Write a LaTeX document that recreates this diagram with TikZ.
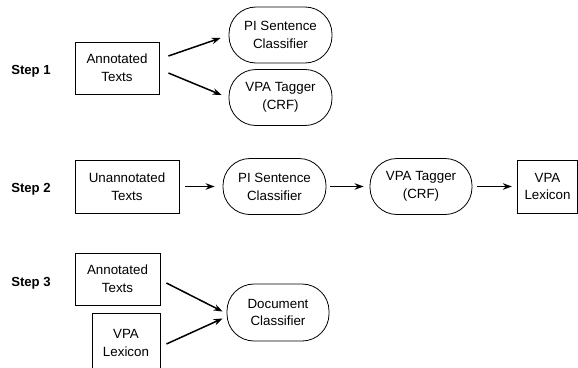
\documentclass[tikz,border=0pt]{standalone}
\usepackage{fontspec}
\setmainfont{Liberation Sans}
\usetikzlibrary{arrows.meta,calc}
\tikzset{
  lbl/.style={font=\fontsize{13.2}{18}\selectfont\bfseries, inner sep=0pt},
  boxnode/.style={draw, line width=0.8bp, align=center, inner sep=0pt,
    font=\fontsize{13.4}{18}\selectfont},
  stad/.style={draw, line width=0.8bp, align=center, inner sep=0pt,
    rounded corners=27bp, minimum width=103bp, minimum height=56bp,
    font=\fontsize{13.4}{18}\selectfont},
  arr/.style={line width=1.5bp, -{Stealth[length=9bp,width=6.5bp]}}
}
\begin{document}
\begin{tikzpicture}[x=1bp,y=1bp]
\useasboundingbox (0,0) rectangle (578,367);
% Step 1
\node[lbl] (s1) at (31,296) {Step 1};
\node[boxnode, minimum width=84bp, minimum height=52bp] (a1) at (117,299) {Annotated\\Texts};
\node[stad] (pi1) at (280.5,332) {PI Sentence\\Classifier};
\node[stad] (vt1) at (280.5,269.5) {VPA Tagger\\(CRF)};
\draw[arr] ($(a1.east)+(9,12)$) -- ($(pi1.west)+(-8,-3)$);
\draw[arr] ($(a1.east)+(9,-5)$) -- ($(vt1.west)+(-7,2.5)$);
% Step 2
\node[lbl] (s2) at (31,178) {Step 2};
\node[boxnode, minimum width=104bp, minimum height=53bp] (u2) at (127,180.5) {Unannotated\\Texts};
\node[stad] (pi2) at (274.5,180.5) {PI Sentence\\Classifier};
\node[stad, minimum width=102bp] (vt2) at (421,180.5) {VPA Tagger\\(CRF)};
\node[boxnode, minimum width=60.5bp, minimum height=53bp] (lx2) at (547.5,180.5) {VPA\\Lexicon};
\draw[arr] ($(u2.east)+(6,0)$) -- ($(pi2.west)+(-8,0)$);
\draw[arr] ($(pi2.east)+(4,0)$) -- ($(vt2.west)+(-6,0)$);
\draw[arr] ($(vt2.east)+(5,0)$) -- ($(lx2.west)+(-5,0)$);
% Step 3
\node[lbl] (s3) at (31,84) {Step 3};
\node[boxnode, minimum width=85bp, minimum height=52bp] (a3) at (117.5,88) {Annotated\\Texts};
\node[boxnode, minimum width=68bp, minimum height=60bp] (l3) at (126,24) {VPA\\Lexicon};
\node[stad, minimum width=102bp, minimum height=57bp] (dc) at (278,54.5) {Document\\Classifier};
\draw[arr] ($(a3.east)+(6,-4)$) -- ($(dc.west)+(-4,1)$);
\draw[arr] ($(l3.east)+(6,-1)$) -- ($(dc.west)+(-4,-6)$);
\end{tikzpicture}
\end{document}
